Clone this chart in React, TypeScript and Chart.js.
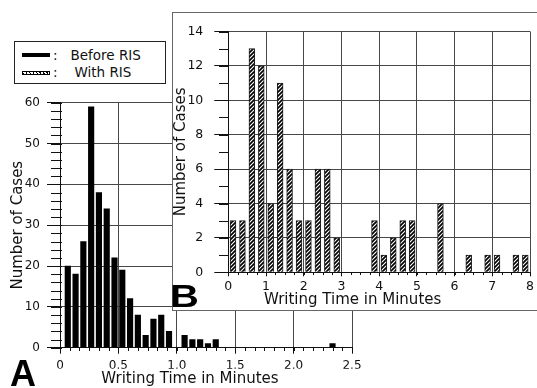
import React, { useEffect, useRef } from 'react';
import { Chart, registerables } from 'chart.js';

Chart.register(...registerables);

// ---- Data ----
// Panel A: "Before RIS" – bin centres in seconds (4 s bins) and case counts
const secondsA = [4, 8, 12, 16, 20, 24, 28, 32, 36, 40, 44, 48, 52, 56, 64, 68, 72, 76, 80, 140];
const countsA = [20, 18, 26, 59, 38, 34, 22, 19, 12, 8, 3, 7, 8, 4, 3, 2, 2, 1, 2, 1];

// Panel B: "With RIS" – bin centres in minutes (15 s bins) and case counts
const minutesB = [0.125, 0.375, 0.625, 0.875, 1.125, 1.375, 1.625, 1.875, 2.125, 2.375, 2.625, 2.875,
  3.875, 4.125, 4.375, 4.625, 4.875, 5.625, 6.375, 6.875, 7.125, 7.625, 7.875];
const countsB = [3, 3, 13, 12, 4, 11, 6, 3, 3, 6, 6, 2, 3, 1, 2, 3, 3, 4, 1, 1, 1, 1, 1];

// Axis ranges / ticks
const xRangeA = [0, 2.5];
const yRangeA = [0, 60];
const xRangeB = [0, 8];
const yRangeB = [0, 14];

const X_TITLE = 'Writing Time in Minutes';
const Y_TITLE = 'Number of Cases';
const LEGEND_LABELS = ['Before RIS', 'With RIS'];

const FONT = '"DejaVu Sans", sans-serif';
const INK = '#111';
const GRID = '#474747';

type MinorSpec = { id: string; step: number; inside: number; outside: number };

function makeMinorTicks(specs: MinorSpec[]) {
  return {
    id: 'minorTicks',
    afterDraw(chart: any) {
      const ctx = chart.ctx;
      ctx.save();
      ctx.strokeStyle = INK;
      ctx.lineWidth = 1;
      specs.forEach((a) => {
        const sc = chart.scales[a.id];
        if (!sc) return;
        const n = Math.round((sc.max - sc.min) / a.step);
        ctx.beginPath();
        for (let i = 0; i <= n; i++) {
          const v = sc.min + i * a.step;
          const p = Math.round(sc.getPixelForValue(v)) + 0.5;
          if (sc.isHorizontal()) {
            const y0 = Math.round(sc.top);
            ctx.moveTo(p, y0 - a.inside);
            ctx.lineTo(p, y0 + a.outside);
          } else {
            const x0 = Math.round(sc.right);
            ctx.moveTo(x0 - a.outside, p);
            ctx.lineTo(x0 + a.inside, p);
          }
        }
        ctx.stroke();
      });
      ctx.restore();
    },
  };
}

function makeHatch(): CanvasPattern | string {
  const c = document.createElement('canvas');
  c.width = 4;
  c.height = 4;
  const g = c.getContext('2d');
  if (!g) return '#666';
  g.fillStyle = '#fff';
  g.fillRect(0, 0, 4, 4);
  g.strokeStyle = '#000';
  g.lineWidth = 1.7;
  g.beginPath();
  g.moveTo(0, 4); g.lineTo(4, 0);
  g.moveTo(-1, 1); g.lineTo(1, -1);
  g.moveTo(3, 5); g.lineTo(5, 3);
  g.stroke();
  return g.createPattern(c, 'repeat') || '#666';
}

export default function App() {
  const refA = useRef<HTMLCanvasElement>(null);
  const refB = useRef<HTMLCanvasElement>(null);

  useEffect(() => {
    const dataA = secondsA.map((s, i) => ({ x: s / 60, y: countsA[i] }));
    const dataB = minutesB.map((m, i) => ({ x: m, y: countsB[i] }));

    const chartA = new Chart(refA.current as HTMLCanvasElement, {
      type: 'bar',
      data: {
        datasets: [{
          label: LEGEND_LABELS[0],
          data: dataA as any,
          backgroundColor: '#000',
          borderWidth: 0,
          barThickness: 5.5,
        }],
      },
      options: {
        animation: false,
        responsive: false,
        maintainAspectRatio: false,
        layout: { padding: { left: 0, top: 102.7, right: 157, bottom: 1.5 } },
        plugins: {
          legend: { display: false },
          tooltip: { enabled: false },
          title: {
            display: true,
            position: 'bottom',
            text: X_TITLE,
            color: INK,
            font: { family: FONT, size: 15, weight: 'normal', lineHeight: 1 },
            padding: { top: 2.8, bottom: 0 },
          },
        },
        scales: {
          x: {
            type: 'linear',
            min: xRangeA[0],
            max: xRangeA[1],
            offset: false,
            grid: { offset: false, color: GRID, tickColor: INK, tickLength: 6, lineWidth: 1 },
            border: { color: INK, width: 1 },
            ticks: {
              stepSize: 0.5,
              padding: 5,
              color: INK,
              autoSkip: false,
              maxRotation: 0,
              font: { family: FONT, size: 12 },
              callback: (v: any) => (Number(v) === 0 ? '0' : Number(v).toFixed(1)),
            },
            afterFit: (s: any) => { s.height = 21; },
          },
          y: {
            min: yRangeA[0],
            max: yRangeA[1],
            grid: { color: GRID, tickColor: INK, tickLength: 13, lineWidth: 1 },
            border: { color: INK, width: 1 },
            ticks: { stepSize: 10, padding: 7, color: INK, font: { family: FONT, size: 12 } },
            title: {
              display: true,
              text: Y_TITLE,
              color: INK,
              font: { family: FONT, size: 15, lineHeight: 1 },
              padding: { top: 11, bottom: 0 },
            },
            afterFit: (s: any) => { s.width = 60; },
          },
          yPad: {
            position: 'right',
            display: true,
            grid: { display: false, drawTicks: false },
            border: { display: false },
            ticks: { display: false },
            afterFit: (s: any) => { s.width = 28; },
          },
        },
      } as any,
      plugins: [makeMinorTicks([
        { id: 'x', step: 1 / 12, inside: 1, outside: 3 },
        { id: 'y', step: 2, inside: 2, outside: 9 },
      ])],
    });

    const hatch = makeHatch();
    const chartB = new Chart(refB.current as HTMLCanvasElement, {
      type: 'bar',
      data: {
        datasets: [{
          label: LEGEND_LABELS[1],
          data: dataB as any,
          backgroundColor: hatch as any,
          borderColor: '#1a1a1a',
          borderWidth: 1,
          borderSkipped: 'bottom',
          barThickness: 5.8,
        }],
      },
      options: {
        animation: false,
        responsive: false,
        maintainAspectRatio: false,
        layout: { padding: { left: 0, top: 7, right: 4.7, bottom: 2.5 } },
        plugins: {
          legend: { display: false },
          tooltip: { enabled: false },
          title: {
            display: true,
            position: 'bottom',
            text: X_TITLE,
            color: INK,
            font: { family: FONT, size: 15, weight: 'normal', lineHeight: 1 },
            padding: { top: 2.2, bottom: 0 },
          },
        },
        scales: {
          x: {
            type: 'linear',
            min: xRangeB[0],
            max: xRangeB[1],
            offset: false,
            grid: { offset: false, color: GRID, tickColor: INK, tickLength: 4, lineWidth: 1 },
            border: { color: INK, width: 1 },
            ticks: {
              stepSize: 1,
              padding: 3,
              color: INK,
              autoSkip: false,
              maxRotation: 0,
              font: { family: FONT, size: 12.5 },
            },
            afterFit: (s: any) => { s.height = 18; },
          },
          y: {
            min: yRangeB[0],
            max: yRangeB[1],
            grid: { color: GRID, tickColor: INK, tickLength: 14, lineWidth: 1 },
            border: { color: INK, width: 1 },
            ticks: { stepSize: 2, padding: 11, color: INK, font: { family: FONT, size: 12.5 } },
            title: {
              display: true,
              text: Y_TITLE,
              color: INK,
              font: { family: FONT, size: 15, lineHeight: 1 },
              padding: { top: 1, bottom: 0 },
            },
            afterFit: (s: any) => { s.width = 55.3; },
          },
        },
      } as any,
      plugins: [makeMinorTicks([
        { id: 'x', step: 0.25, inside: 0, outside: 3 },
        { id: 'y', step: 1, inside: 1, outside: 9 },
      ])],
    });

    return () => {
      chartA.destroy();
      chartB.destroy();
    };
  }, []);

  const legendText: React.CSSProperties = {
    position: 'absolute',
    fontFamily: FONT,
    fontSize: 13.5,
    lineHeight: '13.5px',
    color: INK,
    whiteSpace: 'nowrap',
  };

  return (
    <div style={{ position: 'fixed', left: 0, top: 0, width: 537, height: 388, overflow: 'hidden', background: '#fff' }}>
      <canvas ref={refA} width={537} height={388} style={{ position: 'absolute', left: 0, top: 0 }} />

      {/* legend */}
      <div style={{
        position: 'absolute', left: 14, top: 41, width: 152, height: 43,
        border: '1px solid #222', boxSizing: 'border-box', background: '#fff',
      }}>
        <div style={{ position: 'absolute', left: 7, top: 11, width: 28, height: 4, background: '#000' }} />
        <div style={{ ...legendText, left: 38, top: 6.5 }}>:</div>
        <div style={{ ...legendText, left: 55.5, top: 6.5 }}>{LEGEND_LABELS[0]}</div>
        <div style={{
          position: 'absolute', left: 7, top: 28.7, width: 28, height: 4, boxSizing: 'border-box',
          border: '1px solid #000',
          background: 'repeating-linear-gradient(60deg, #000 0px, #000 1px, #fff 1px, #fff 3px)',
        }} />
        <div style={{ ...legendText, left: 38, top: 24.2 }}>:</div>
        <div style={{ ...legendText, left: 59.5, top: 24.2 }}>{LEGEND_LABELS[1]}</div>
      </div>

      {/* inset panel B */}
      <div style={{
        position: 'absolute', left: 172, top: 12, width: 365, height: 299,
        border: '1px solid #666', borderRight: 'none', boxSizing: 'border-box', background: '#fff',
      }}>
        <canvas ref={refB} width={364} height={297} style={{ position: 'absolute', left: 0, top: 0 }} />
      </div>

      <div style={{
        position: 'absolute', left: 170.4, top: 279.6, fontFamily: '"Liberation Sans", Arial, sans-serif',
        fontWeight: 'bold', fontSize: 32, lineHeight: '32px', color: '#000',
        transform: 'scaleX(1.25)', transformOrigin: 'left top',
      }}>B</div>
      <div style={{
        position: 'absolute', left: 10, top: 356, fontFamily: '"Liberation Sans", Arial, sans-serif',
        fontWeight: 'bold', fontSize: 36, lineHeight: '36px', color: '#000',
      }}>A</div>
    </div>
  );
}
